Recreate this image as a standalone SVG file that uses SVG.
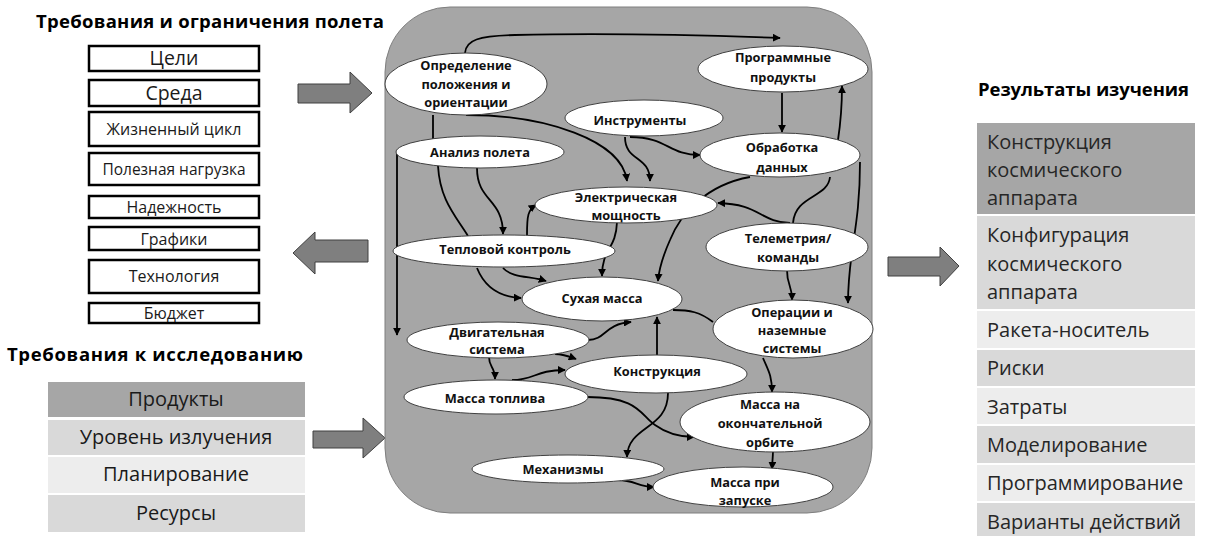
<svg xmlns="http://www.w3.org/2000/svg" width="1205" height="536" viewBox="0 0 1205 536">
<defs>
<marker id="ah" viewBox="0 0 10 10" refX="9" refY="5" markerWidth="8" markerHeight="8" markerUnits="userSpaceOnUse" orient="auto"><path d="M0,0 L10,5 L0,10 z" fill="#000"/></marker>
<style>
.title{font-family:"Open Sans","Liberation Sans",sans-serif;font-weight:bold;font-size:18.5px;fill:#000}
.box{fill:#fff;stroke:#000;stroke-width:2.5}
.bt{font-family:"Open Sans","Liberation Sans",sans-serif;fill:#1a1a1a;text-anchor:middle}
.tt{font-family:"Open Sans","Liberation Sans",sans-serif;font-size:20px;fill:#262626}
.big{fill:#7f7f7f;stroke:#404040;stroke-width:1}
.node ellipse{fill:#fff;stroke:#404040;stroke-width:1}
.node text{font-family:"Open Sans","Liberation Sans",sans-serif;font-weight:bold;font-size:12.8px;fill:#111;text-anchor:middle}
.c path{fill:none;stroke:#000;stroke-width:1.8}
.c path.a{marker-end:url(#ah)}
</style>
</defs>
<rect width="1205" height="536" fill="#fff"/>

<!-- Left top title and boxes -->
<text class="title" x="36" y="28" textLength="348">Требования и ограничения полета</text>
<g id="left-boxes">
<rect class="box" x="89" y="46" width="170" height="25"/><text class="bt" x="174" y="65" font-size="19.5">Цели</text>
<rect class="box" x="89" y="80" width="170" height="26"/><text class="bt" x="174" y="100" font-size="19.5">Среда</text>
<rect class="box" x="89" y="112" width="170" height="34"/><text class="bt" x="174" y="135" font-size="16">Жизненный цикл</text>
<rect class="box" x="89" y="153" width="170" height="32"/><text class="bt" x="174" y="174.5" font-size="15.5">Полезная нагрузка</text>
<rect class="box" x="89" y="196" width="170" height="22"/><text class="bt" x="174" y="212.5" font-size="16">Надежность</text>
<rect class="box" x="89" y="227" width="170" height="23"/><text class="bt" x="174" y="244.5" font-size="16">Графики</text>
<rect class="box" x="89" y="260" width="170" height="33"/><text class="bt" x="174" y="282" font-size="16">Технология</text>
<rect class="box" x="89" y="303" width="170" height="20"/><text class="bt" x="174" y="319" font-size="16">Бюджет</text>
</g>

<!-- Left bottom title and table -->
<text class="title" x="7" y="361" textLength="296">Требования к исследованию</text>
<g id="study-req">
<rect x="48" y="382" width="257" height="35" fill="#a6a6a6"/><text class="bt" x="176" y="406" font-size="20" fill="#262626">Продукты</text>
<rect x="48" y="420" width="257" height="35" fill="#d9d9d9"/><text class="bt" x="176" y="444" font-size="20" fill="#262626">Уровень излучения</text>
<rect x="48" y="457" width="257" height="36" fill="#ededed"/><text class="bt" x="176" y="481" font-size="20" fill="#262626">Планирование</text>
<rect x="48" y="495" width="257" height="37" fill="#d9d9d9"/><text class="bt" x="176" y="520" font-size="20" fill="#262626">Ресурсы</text>
</g>

<!-- Big arrows -->
<g id="big-arrows">
<polygon class="big" points="298,84 350,84 350,72 372,93 350,113 350,103 298,103"/>
<polygon class="big" points="368,240 315,240 315,232 293,253 315,274 315,262 368,262"/>
<polygon class="big" points="313,431 363,431 363,418 385,438 363,458 363,448 313,448"/>
<polygon class="big" points="888,257 940,257 940,247 959,266 940,286 940,276 888,276"/>
</g>

<!-- Central panel -->
<rect id="panel" x="385" y="7" width="487" height="506" rx="65" ry="65" fill="#a6a6a6" stroke="#7f7f7f" stroke-width="1"/>

<g class="c" id="connectors">
<path class="a" d="M465,53 C466,40 478,36 515,35 C600,33 700,35 780,38"/>
<path class="a" d="M397,150 L397,335"/>
<path d="M433,115 L433,140"/>
<path d="M438,166 C440,200 455,215 468,236"/>
<path class="a" d="M477,268 C485,288 500,297 521,298"/>
<path class="a" d="M477,168 C477,202 503,198 503,234"/>
<path class="a" d="M527,235 C527,215 528,210 536,205"/>
<path class="a" d="M503,268 C512,278 530,276 546,281"/>
<path class="a" d="M617,222 C616,250 602,248 602,276"/>
<path class="a" d="M466,115 C545,115 622,140 627,181"/>
<path class="a" d="M625,137 C625,162 650,155 650,181"/>
<path class="a" d="M630,137 C668,137 668,155 700,155"/>
<path class="a" d="M782,93 L782,132"/>
<path class="a" d="M838,140 C841,120 842,110 842,86"/>
<path class="a" d="M750,177 C705,185 680,215 670,240 C662,258 659,268 658,281"/>
<path d="M830,177 C828,198 795,195 793,223"/>
<path class="a" d="M790,223 C760,222 760,204 718,203"/>
<path class="a" d="M860,162 C860,230 848,250 848,303"/>
<path class="a" d="M787,270 C787,286 792,284 792,300"/>
<path d="M713,322 C700,312 690,310 673,310"/>
<path class="a" d="M657,355 L657,317"/>
<path class="a" d="M588,340 C606,340 604,324 631,322"/>
<path class="a" d="M555,354 C562,354 568,356 576,359"/>
<path class="a" d="M489,357 C489,368 495,366 495,379"/>
<path class="a" d="M512,380 C535,380 535,370 565,370"/>
<path class="a" d="M587,397 C640,397 640,415 655,425 C666,433 680,437 694,437"/>
<path class="a" d="M668,393 C668,430 628,425 627,457"/>
<path class="a" d="M763,358 C768,370 772,375 772,392"/>
<path class="a" d="M773,452 L772,469"/>
<path class="a" d="M618,480 C635,480 638,487 654,487"/>
</g>

<g class="node" id="n-orient"><ellipse cx="466" cy="84" rx="81" ry="31"/><text x="466" y="69.5">Определение</text><text x="466" y="88.5">положения и</text><text x="466" y="106.5">ориентации</text></g>
<g class="node" id="n-analysis"><ellipse cx="480" cy="152" rx="84" ry="16"/><text x="480" y="156.5">Анализ полета</text></g>
<g class="node" id="n-instr"><ellipse cx="644" cy="118" rx="79" ry="18"/><text x="640" y="125">Инструменты</text></g>
<g class="node" id="n-software"><ellipse cx="783" cy="69" rx="85" ry="23"/><text x="783" y="61.5">Программные</text><text x="783" y="81.5">продукты</text></g>
<g class="node" id="n-dataproc"><ellipse cx="780" cy="155" rx="80" ry="22"/><text x="782" y="151.5">Обработка</text><text x="782" y="171.5">данных</text></g>
<g class="node" id="n-power"><ellipse cx="626" cy="205" rx="91" ry="18"/><text x="626" y="202">Электрическая</text><text x="626" y="219.5">мощность</text></g>
<g class="node" id="n-thermal"><ellipse cx="504" cy="251" rx="111" ry="16"/><text x="505" y="254">Тепловой контроль</text></g>
<g class="node" id="n-telemetry"><ellipse cx="787" cy="247" rx="81" ry="24"/><text x="788" y="242.5">Телеметрия/</text><text x="788" y="261.5">команды</text></g>
<g class="node" id="n-drymass"><ellipse cx="602" cy="299" rx="80" ry="22"/><text x="602" y="302.5">Сухая масса</text></g>
<g class="node" id="n-ops"><ellipse cx="793" cy="329" rx="80" ry="29"/><text x="792" y="316.5">Операции и</text><text x="792" y="334.5">наземные</text><text x="792" y="352.5">системы</text></g>
<g class="node" id="n-propulsion"><ellipse cx="498" cy="340" rx="91" ry="18"/><text x="497" y="336.5">Двигательная</text><text x="497" y="353.5">система</text></g>
<g class="node" id="n-structure"><ellipse cx="656" cy="374" rx="91" ry="19"/><text x="657" y="375.5">Конструкция</text></g>
<g class="node" id="n-propellant"><ellipse cx="496" cy="397" rx="92" ry="17"/><text x="495" y="402.5">Масса топлива</text></g>
<g class="node" id="n-finalmass"><ellipse cx="775" cy="422" rx="95" ry="30"/><text x="770" y="408.5">Масса на</text><text x="770" y="427.5">окончательной</text><text x="770" y="446.5">орбите</text></g>
<g class="node" id="n-mechanisms"><ellipse cx="568" cy="469" rx="96" ry="14"/><text x="563" y="473.5">Механизмы</text></g>
<g class="node" id="n-launchmass"><ellipse cx="743" cy="487" rx="90" ry="20"/><text x="745" y="486.5">Масса при</text><text x="745" y="504.5">запуске</text></g>

<!-- Right side -->
<text class="title" x="978" y="96" textLength="211">Результаты изучения</text>
<g id="results">
<rect x="977" y="123" width="218" height="91" fill="#a6a6a6"/>
<text class="tt" x="987" y="149">Конструкция</text><text class="tt" x="987" y="177">космического</text><text class="tt" x="987" y="205">аппарата</text>
<rect x="977" y="216" width="218" height="93" fill="#d9d9d9"/>
<text class="tt" x="987" y="242">Конфигурация</text><text class="tt" x="987" y="271">космического</text><text class="tt" x="987" y="299">аппарата</text>
<rect x="977" y="311" width="218" height="37" fill="#ededed"/><text class="tt" x="987" y="337">Ракета-носитель</text>
<rect x="977" y="350" width="218" height="36" fill="#d9d9d9"/><text class="tt" x="987" y="375">Риски</text>
<rect x="977" y="388" width="218" height="36" fill="#ededed"/><text class="tt" x="987" y="414">Затраты</text>
<rect x="977" y="426" width="218" height="37" fill="#d9d9d9"/><text class="tt" x="987" y="452">Моделирование</text>
<rect x="977" y="465" width="218" height="36" fill="#ededed"/><text class="tt" x="987" y="490">Программирование</text>
<rect x="977" y="503" width="218" height="33" fill="#d9d9d9"/><text class="tt" x="987" y="529">Варианты действий</text>
</g>
</svg>
